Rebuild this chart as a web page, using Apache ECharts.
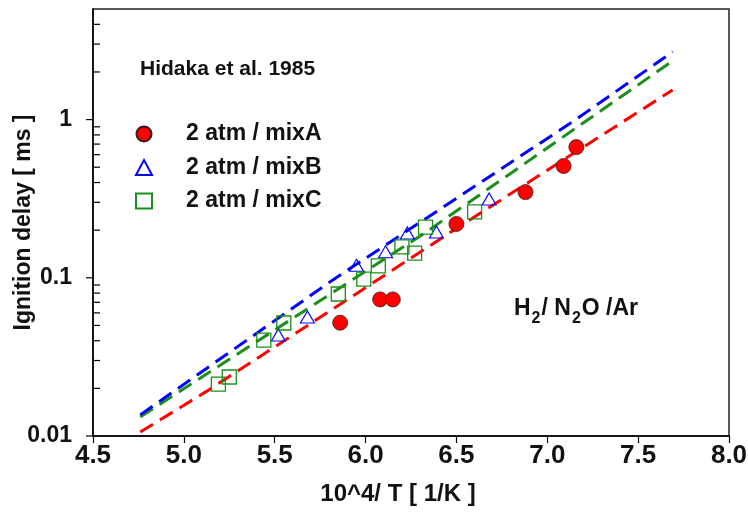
<!DOCTYPE html>
<html>
<head>
<meta charset="utf-8">
<script src="https://cdn.jsdelivr.net/npm/echarts@6/dist/echarts.min.js"></script>
<style>html,body{margin:0;padding:0;background:#fff}#c{width:748px;height:516px}</style>
</head>
<body>
<div id="c"></div>
<script>
// ---- data ----
const xMin = 4.5, xMax = 8.0, xInterval = 0.5;
const yMin = 0.01, yMax = 5;
const yMajorTicks = [0.01, 0.1, 1];
const yMinorTicks = [0.02,0.03,0.04,0.05,0.06,0.07,0.08,0.09,0.2,0.3,0.4,0.5,0.6,0.7,0.8,0.9,2,3,4];

const mixA_x = [5.86, 6.08, 6.15, 6.50, 6.88, 7.09, 7.16];
const mixA_y = [0.052, 0.073, 0.073, 0.219, 0.348, 0.509, 0.67];
const mixB_x = [5.52, 5.68, 5.95, 6.11, 6.23, 6.39, 6.68];
const mixB_y = [0.0435, 0.0565, 0.12, 0.146, 0.192, 0.195, 0.315];
const mixC_x = [5.19, 5.25, 5.44, 5.55, 5.85, 5.99, 6.07, 6.20, 6.27, 6.33, 6.60];
const mixC_y = [0.0213, 0.0236, 0.0404, 0.0518, 0.079, 0.098, 0.119, 0.157, 0.143, 0.209, 0.261];

const modelA_x = [4.76, 5.12, 6.50, 7.69];
const modelA_y = [0.0106, 0.019, 0.205, 1.54];
const modelB_x = [4.76, 5.82, 7.14, 7.69];
const modelB_y = [0.0136, 0.097, 0.97, 2.68];
const modelC_x = [4.76, 6.32, 7.69];
const modelC_y = [0.0132, 0.19, 2.35];

const seriesNames = ['2 atm / mixA', '2 atm / mixB', '2 atm / mixC'];

const zip = (xs, ys) => xs.map((x, i) => [x, ys[i]]);
const FONT = '"Liberation Sans", Arial, sans-serif';
const RED = '#ff0000', BLUE = '#0000ff', GREEN = '#1a8f1a';

const chart = echarts.init(document.getElementById('c'), null, {renderer: 'canvas'});

function tickSeries(values, dir, len) {
  return {
    type: 'custom', silent: true, clip: false, z: 5,
    data: values.map(v => [xMin, v]),
    renderItem: (params, api) => {
      const p = api.coord([api.value(0), api.value(1)]);
      return {type: 'line', shape: {x1: p[0], y1: p[1], x2: p[0] + dir * len, y2: p[1]},
              style: {stroke: '#000', lineWidth: 1.2}};
    }
  };
}

function modelLine(xs, ys, color) {
  return {
    type: 'line', data: zip(xs, ys), symbol: 'none', silent: true, z: 2,
    lineStyle: {color: color, width: 3, type: [15, 8]}
  };
}

chart.setOption({
  animation: false,
  backgroundColor: '#fff',
  grid: {left: 93, right: 19, top: 9, bottom: 80, containLabel: false, outerBoundsMode: 'none',
         show: true, borderColor: '#222', borderWidth: 1.5, backgroundColor: 'transparent'},
  xAxis: {
    type: 'value', min: xMin, max: xMax, interval: xInterval,
    axisLine: {lineStyle: {color: '#000', width: 1.5}},
    axisTick: {show: true, inside: false, length: 7, lineStyle: {color: '#000', width: 1.2}},
    axisLabel: {color: '#111', fontFamily: FONT, fontWeight: 'bold', fontSize: 26, margin: 7,
                formatter: v => v.toFixed(1)},
    splitLine: {show: false},
    name: '10^4/ T [ 1/K ]', nameLocation: 'middle', nameGap: 46, nameMoveOverlap: false,
    nameTextStyle: {color: '#111', fontFamily: FONT, fontWeight: 'bold', fontSize: 24, padding: [0, 26, 0, 0]}
  },
  yAxis: {
    type: 'log', logBase: 10, min: yMin, max: yMax,
    axisLine: {lineStyle: {color: '#000', width: 1.5}},
    axisTick: {show: false},
    axisLabel: {color: '#111', fontFamily: FONT, fontWeight: 'bold', fontSize: 23, margin: 21,
                showMaxLabel: false,
                formatter: v => (yMajorTicks.some(t => Math.abs(t - v) / t < 1e-6) ? String(v) : '')},
    splitLine: {show: false},
    minorTick: {show: false},
    name: 'Ignition delay [ ms ]', nameLocation: 'middle', nameGap: 58, nameMoveOverlap: false,
    nameTextStyle: {color: '#111', fontFamily: FONT, fontWeight: 'bold', fontSize: 23}
  },
  legend: {
    orient: 'vertical', left: 130, top: 117, itemGap: 9.5,
    itemWidth: 16, itemHeight: 15,
    data: seriesNames,
    textStyle: {color: '#111', fontFamily: FONT, fontWeight: 'bold', fontSize: 23, lineHeight: 24, padding: [0, 0, 0, 29]}
  },
  graphic: [
    {type: 'text', left: 140, top: 59, silent: true,
     style: {text: 'Hidaka et al. 1985', fill: '#111', font: 'bold 21px ' + FONT}},
    {type: 'text', left: 514, top: 297, silent: true,
     style: {text: '{n|H}{s|2}{n|/ N}{s|2}{n|O /Ar}', fill: '#111',
       rich: {
         n: {fontFamily: FONT, fontWeight: 'bold', fontSize: 23, lineHeight: 24, verticalAlign: 'top', fill: '#111'},
         s: {fontFamily: FONT, fontWeight: 'bold', fontSize: 16, lineHeight: 16, padding: [14, 1, 0, 1], verticalAlign: 'top', fill: '#111'}
       }}}
  ],
  series: [
    modelLine(modelA_x, modelA_y, RED),
    modelLine(modelC_x, modelC_y, GREEN),
    modelLine(modelB_x, modelB_y, BLUE),
    {name: seriesNames[0], type: 'scatter', data: zip(mixA_x, mixA_y), symbol: 'circle', symbolSize: 15, z: 4,
     itemStyle: {color: RED, borderColor: '#3a1a1a', borderWidth: 0.8, opacity: 1}},
    {name: seriesNames[1], type: 'scatter', data: zip(mixB_x, mixB_y), symbol: 'triangle', symbolSize: [14, 12], z: 4,
     itemStyle: {color: 'rgba(255,255,255,0)', borderColor: BLUE, borderWidth: 1.1, opacity: 1}},
    {name: seriesNames[2], type: 'scatter', data: zip(mixC_x, mixC_y), symbol: 'rect', symbolSize: 14, z: 4,
     itemStyle: {color: 'rgba(255,255,255,0)', borderColor: GREEN, borderWidth: 1.3, opacity: 1}},
    tickSeries(yMajorTicks, -1, 7),
    tickSeries(yMinorTicks, 1, 7)
  ]
});
</script>
</body>
</html>
